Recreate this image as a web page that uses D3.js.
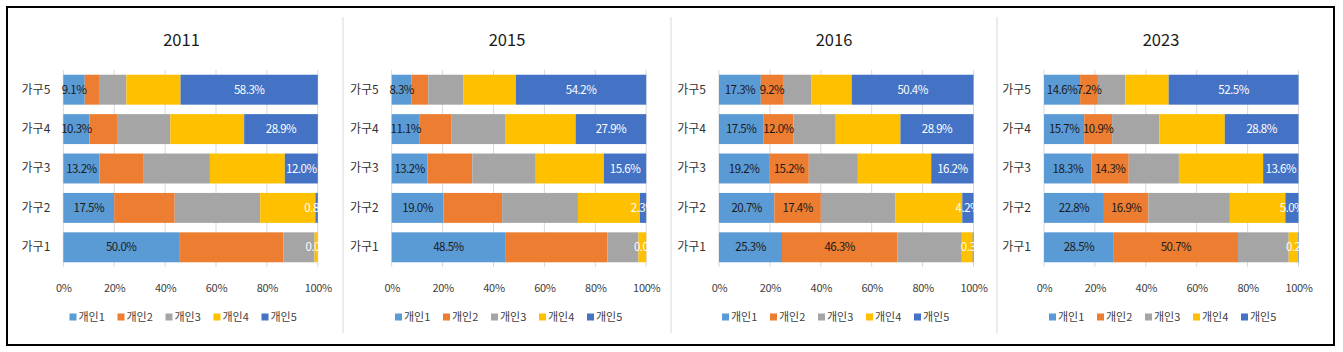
<!DOCTYPE html>
<html>
<head>
<meta charset="utf-8">
<script src="https://cdn.jsdelivr.net/npm/d3@7"></script>
<style>
  body { margin: 0; background: #fff; }
  svg { display: block; font-family: "Noto Sans CJK KR", "Noto Sans", sans-serif; }
</style>
</head>
<body>
<div id="viz"></div>
<script>
const years = ["2011", "2015", "2016", "2023"];
const households = ["가구5", "가구4", "가구3", "가구2", "가구1"];
const persons = ["개인1", "개인2", "개인3", "개인4", "개인5"];
const ticks = [0, 20, 40, 60, 80, 100];

// rows follow households (가구5 .. 가구1), columns follow persons
const v2011 = [
  [9.1, 6.4, 11.3, 23.0, 58.3],
  [10.3, 10.8, 20.9, 29.0, 28.9],
  [13.2, 15.8, 24.3, 27.2, 12.0],
  [17.5, 20.8, 29.4, 19.0, 0.8],
  [50.0, 45.0, 13.5, 1.4, 0.0]
];
const v2015 = [
  [8.3, 6.9, 14.5, 21.9, 54.2],
  [11.1, 12.4, 21.3, 27.9, 27.9],
  [13.2, 16.5, 23.4, 25.1, 15.6],
  [19.0, 21.6, 27.9, 22.8, 2.3],
  [48.5, 43.7, 13.3, 3.3, 0.0]
];
const v2016 = [
  [17.3, 9.2, 11.8, 16.6, 50.4],
  [17.5, 12.0, 16.7, 25.6, 28.9],
  [19.2, 15.2, 18.8, 28.1, 16.2],
  [20.7, 17.4, 27.8, 25.1, 4.2],
  [25.3, 46.3, 25.9, 4.4, 0.3]
];
const v2023 = [
  [14.6, 7.2, 11.1, 17.5, 52.5],
  [15.7, 10.9, 18.4, 25.6, 28.8],
  [18.3, 14.3, 19.3, 32.4, 13.6],
  [22.8, 16.9, 31.0, 21.1, 5.0],
  [28.5, 50.7, 20.7, 3.8, 0.2]
];
const values = [v2011, v2015, v2016, v2023];
// which series carry data labels in each panel
const labelled = [[0, 4], [0, 4], [0, 1, 4], [0, 1, 4]];

const colors = ["#5B9BD5", "#ED7D31", "#A5A5A5", "#FFC000", "#4472C4"];
const labelColors = ["#1a1a1a", "#1a1a1a", "#1a1a1a", "#1a1a1a", "#ffffff"];

const W = 1343, H = 352;
const panels = [
  {left: 20, right: 343, plotLeft: 63.3},
  {left: 343, right: 671, plotLeft: 391.7},
  {left: 671, right: 997, plotLeft: 719},
  {left: 997, right: 1325, plotLeft: 1044}
];
const plotW = 254.5;
const plotTop = 70, plotBottom = 267;

const svg = d3.select("#viz").append("svg")
  .attr("width", W)
  .attr("height", H);

const defs = svg.append("defs");

// outer frame
svg.append("rect")
  .attr("x", 7).attr("y", 7)
  .attr("width", 1327).attr("height", 338)
  .attr("fill", "none")
  .attr("stroke", "#000")
  .attr("stroke-width", 2);

// panel separators
[343, 671, 997].forEach(x => {
  svg.append("line")
    .attr("x1", x).attr("x2", x)
    .attr("y1", 17).attr("y2", 333)
    .attr("stroke", "#d9d9d9")
    .attr("stroke-width", 1);
});

const y = d3.scaleBand()
  .domain(households)
  .range([plotTop, plotBottom])
  .paddingInner(0.24)
  .paddingOuter(0.12);

years.forEach((year, p) => {
  const pan = panels[p];
  const cx = (pan.left + pan.right) / 2;
  const g = svg.append("g");

  const x = d3.scaleLinear()
    .domain([0, 100])
    .range([pan.plotLeft, pan.plotLeft + plotW]);

  g.append("text")
    .attr("x", cx)
    .attr("y", 46)
    .attr("text-anchor", "middle")
    .style("font-size", "16.5px")
    .style("fill", "#1a1a1a")
    .text(year);

  // gridlines
  g.append("g")
    .selectAll("line")
    .data(ticks)
    .join("line")
      .attr("x1", d => x(d)).attr("x2", d => x(d))
      .attr("y1", plotTop).attr("y2", plotBottom)
      .attr("stroke", "#d9d9d9")
      .attr("stroke-width", 1);

  // x axis labels
  const xAxis = g.append("g")
    .attr("transform", `translate(0,${plotBottom})`)
    .call(d3.axisBottom(x).tickValues(ticks).tickSize(0).tickPadding(17).tickFormat(d => d + "%"));
  xAxis.select(".domain").remove();
  xAxis.selectAll("text")
    .style("font-size", "11px")
    .style("letter-spacing", "-0.3px")
    .style("fill", "#404040")
    .style("font-family", "'Noto Sans CJK KR', sans-serif");

  // y axis labels
  const yAxis = g.append("g")
    .attr("transform", `translate(${pan.plotLeft},0)`)
    .call(d3.axisLeft(y).tickSize(0).tickPadding(13));
  yAxis.select(".domain").remove();
  yAxis.selectAll("text")
    .style("font-size", "12px")
    .style("fill", "#333")
    .style("font-family", "'Noto Sans CJK KR', sans-serif");

  const rows = values[p].map((r, i) => {
    const row = {house: households[i]};
    persons.forEach((k, j) => row[k] = r[j]);
    return row;
  });
  const totals = values[p].map(r => d3.sum(r));
  const series = d3.stack().keys(persons)(rows);

  series.forEach((s, j) => {
    g.append("g")
      .attr("fill", colors[j])
      .selectAll("rect")
      .data(s)
      .join("rect")
        .attr("x", (d, i) => x(d[0] / totals[i] * 100))
        .attr("width", (d, i) => x(d[1] / totals[i] * 100) - x(d[0] / totals[i] * 100))
        .attr("y", d => y(d.data.house))
        .attr("height", y.bandwidth());
  });

  // labels are cut at the right edge of the plot only
  const clipId = "clip" + p;
  defs.append("clipPath").attr("id", clipId)
    .append("rect")
      .attr("x", pan.plotLeft - 20)
      .attr("y", plotTop)
      .attr("width", plotW + 21)
      .attr("height", plotBottom - plotTop);

  const labels = g.append("g").attr("clip-path", `url(#${clipId})`);
  labelled[p].forEach(j => {
    labels.selectAll(null)
      .data(series[j])
      .join("text")
        .attr("x", (d, i) => x((d[0] + d[1]) / 2 / totals[i] * 100))
        .attr("y", d => y(d.data.house) + y.bandwidth() / 2)
        .attr("dy", "0.36em")
        .attr("text-anchor", "middle")
        .style("font-size", "11.5px")
        .style("letter-spacing", "-0.5px")
        .style("fill", labelColors[j])
        .text(d => (d[1] - d[0]).toFixed(1) + "%");
  });

  // legend
  const step = 48;
  const legend = g.append("g")
    .attr("transform", `translate(${cx - 112},${317})`);
  persons.forEach((name, j) => {
    legend.append("rect")
      .attr("x", j * step)
      .attr("y", -3.5)
      .attr("width", 7).attr("height", 7)
      .attr("fill", colors[j]);
    legend.append("text")
      .attr("x", j * step + 9)
      .attr("y", 0)
      .attr("dy", "0.36em")
      .style("font-size", "11px")
      .style("fill", "#404040")
      .text(name);
  });
});
</script>
</body>
</html>
